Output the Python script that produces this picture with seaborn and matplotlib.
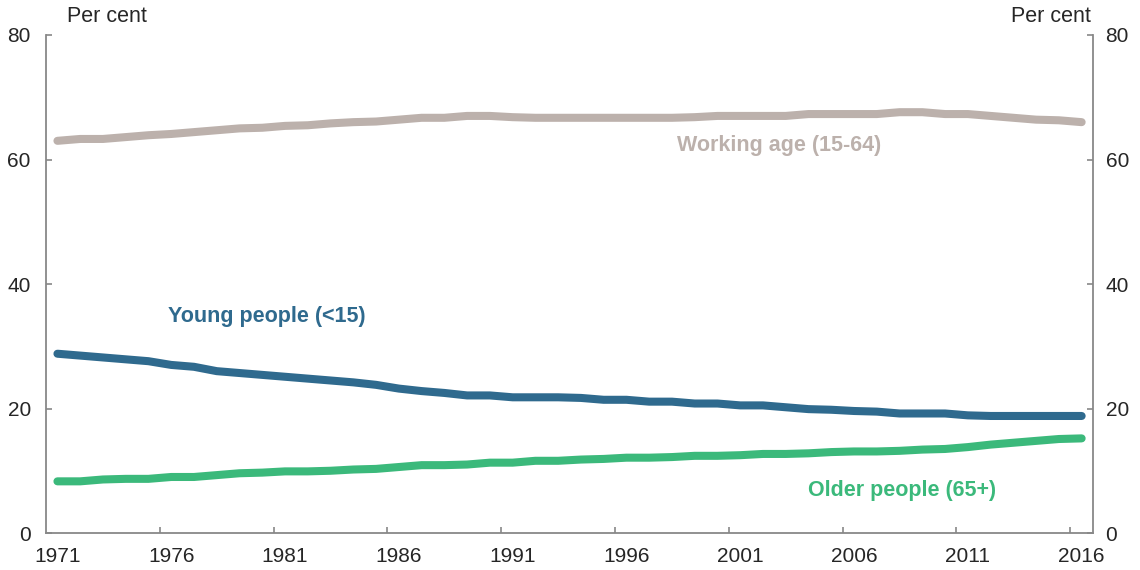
import matplotlib
matplotlib.use('Agg')
import matplotlib.pyplot as plt
import seaborn as sns
import pandas as pd
import numpy as np
from matplotlib.ticker import FixedLocator

# Population shares, 1971-2016 (per cent)
anos = list(range(1971, 2017))

jovens = [28.8, 28.5, 28.2, 27.9, 27.6, 27.0, 26.7, 26.0, 25.7, 25.4,
          25.1, 24.8, 24.5, 24.2, 23.8, 23.2, 22.8, 22.5, 22.1, 22.1,
          21.8, 21.8, 21.8, 21.7, 21.4, 21.4, 21.1, 21.1, 20.8, 20.8,
          20.5, 20.5, 20.2, 19.9, 19.8, 19.6, 19.5, 19.2, 19.2, 19.2,
          18.9, 18.8, 18.8, 18.8, 18.8, 18.8]

idosos = [8.3, 8.3, 8.6, 8.7, 8.7, 9.0, 9.0, 9.3, 9.6, 9.7,
          9.9, 9.9, 10.0, 10.2, 10.3, 10.6, 10.9, 10.9, 11.0, 11.3,
          11.3, 11.6, 11.6, 11.8, 11.9, 12.1, 12.1, 12.2, 12.4, 12.4,
          12.5, 12.7, 12.7, 12.8, 13.0, 13.1, 13.1, 13.2, 13.4, 13.5,
          13.8, 14.2, 14.5, 14.8, 15.1, 15.2]

ativos = [63.0, 63.3, 63.3, 63.6, 63.9, 64.1, 64.4, 64.7, 65.0, 65.1,
          65.4, 65.5, 65.8, 66.0, 66.1, 66.4, 66.7, 66.7, 67.0, 67.0,
          66.8, 66.7, 66.7, 66.7, 66.7, 66.7, 66.7, 66.7, 66.8, 67.0,
          67.0, 67.0, 67.0, 67.3, 67.3, 67.3, 67.3, 67.6, 67.6, 67.3,
          67.3, 67.0, 66.7, 66.4, 66.3, 66.0]

series = ['Working age (15-64)', 'Young people (<15)', 'Older people (65+)']
cores = {'Working age (15-64)': '#BCB1AC',
         'Young people (<15)': '#2F6A8E',
         'Older people (65+)': '#3BB97B'}

df = pd.DataFrame({
    'Ano': anos * 3,
    'Valor': ativos + jovens + idosos,
    'Serie': [series[0]] * len(anos) + [series[1]] * len(anos) + [series[2]] * len(anos),
})

sns.set_style('white')
plt.rcParams['font.family'] = ['Liberation Sans', 'DejaVu Sans']

fig = plt.figure(figsize=(11.4, 5.7), dpi=100)
ax = fig.add_axes([0.0404, 0.0649, 0.9184, 0.8737])

sns.lineplot(data=df, x='Ano', y='Valor', hue='Serie', palette=cores,
             linewidth=5.8, legend=False, ax=ax, solid_capstyle='round')

ax.set_xlim(1970.5, 2016.5)
ax.set_ylim(0, 80)
ax.set_xlabel('')
ax.set_ylabel('')

cinza = '#888888'
for lado in ['left', 'bottom', 'right']:
    ax.spines[lado].set_color(cinza)
    ax.spines[lado].set_linewidth(1.3)
ax.spines['top'].set_visible(False)

# x axis: labels centred on categories, ticks between them
ax.xaxis.set_major_locator(FixedLocator(anos[::5]))
ax.set_xticklabels([str(a) for a in anos[::5]])
ax.xaxis.set_minor_locator(FixedLocator([a - 0.5 for a in anos[5::5]]))
ax.tick_params(axis='x', which='major', length=0, pad=10, labelsize=15)
ax.tick_params(axis='x', which='minor', direction='in', length=4,
               width=1.2, color=cinza, bottom=True)

ax.set_yticks([0, 20, 40, 60, 80])
ax.tick_params(axis='y', direction='in', length=4, width=1.2, color=cinza,
               pad=11, labelsize=15, left=True)

ax2 = ax.twinx()
ax2.set_ylim(0, 80)
ax2.set_yticks([0, 20, 40, 60, 80])
ax2.tick_params(axis='y', direction='in', length=4, width=1.2, color=cinza,
                pad=9, labelsize=15, right=True)
for lado in ax2.spines:
    ax2.spines[lado].set_visible(False)

# series labels
ax.text(2002.7, 62.3, 'Working age (15-64)', color=cores[series[0]],
        fontsize=15.5, fontweight='bold', ha='center', va='center')
ax.text(1980.2, 34.7, 'Young people (<15)', color=cores[series[1]],
        fontsize=15.5, fontweight='bold', ha='center', va='center')
ax.text(2008.1, 6.9, 'Older people (65+)', color=cores[series[2]],
        fontsize=15.5, fontweight='bold', ha='center', va='center')

fig.text(67 / 1140, 1 - 17 / 570, 'Per cent', fontsize=15.5, ha='left', va='center')
fig.text(1091 / 1140, 1 - 17 / 570, 'Per cent', fontsize=15.5, ha='right', va='center')

fig.savefig('out.png', dpi=100)
